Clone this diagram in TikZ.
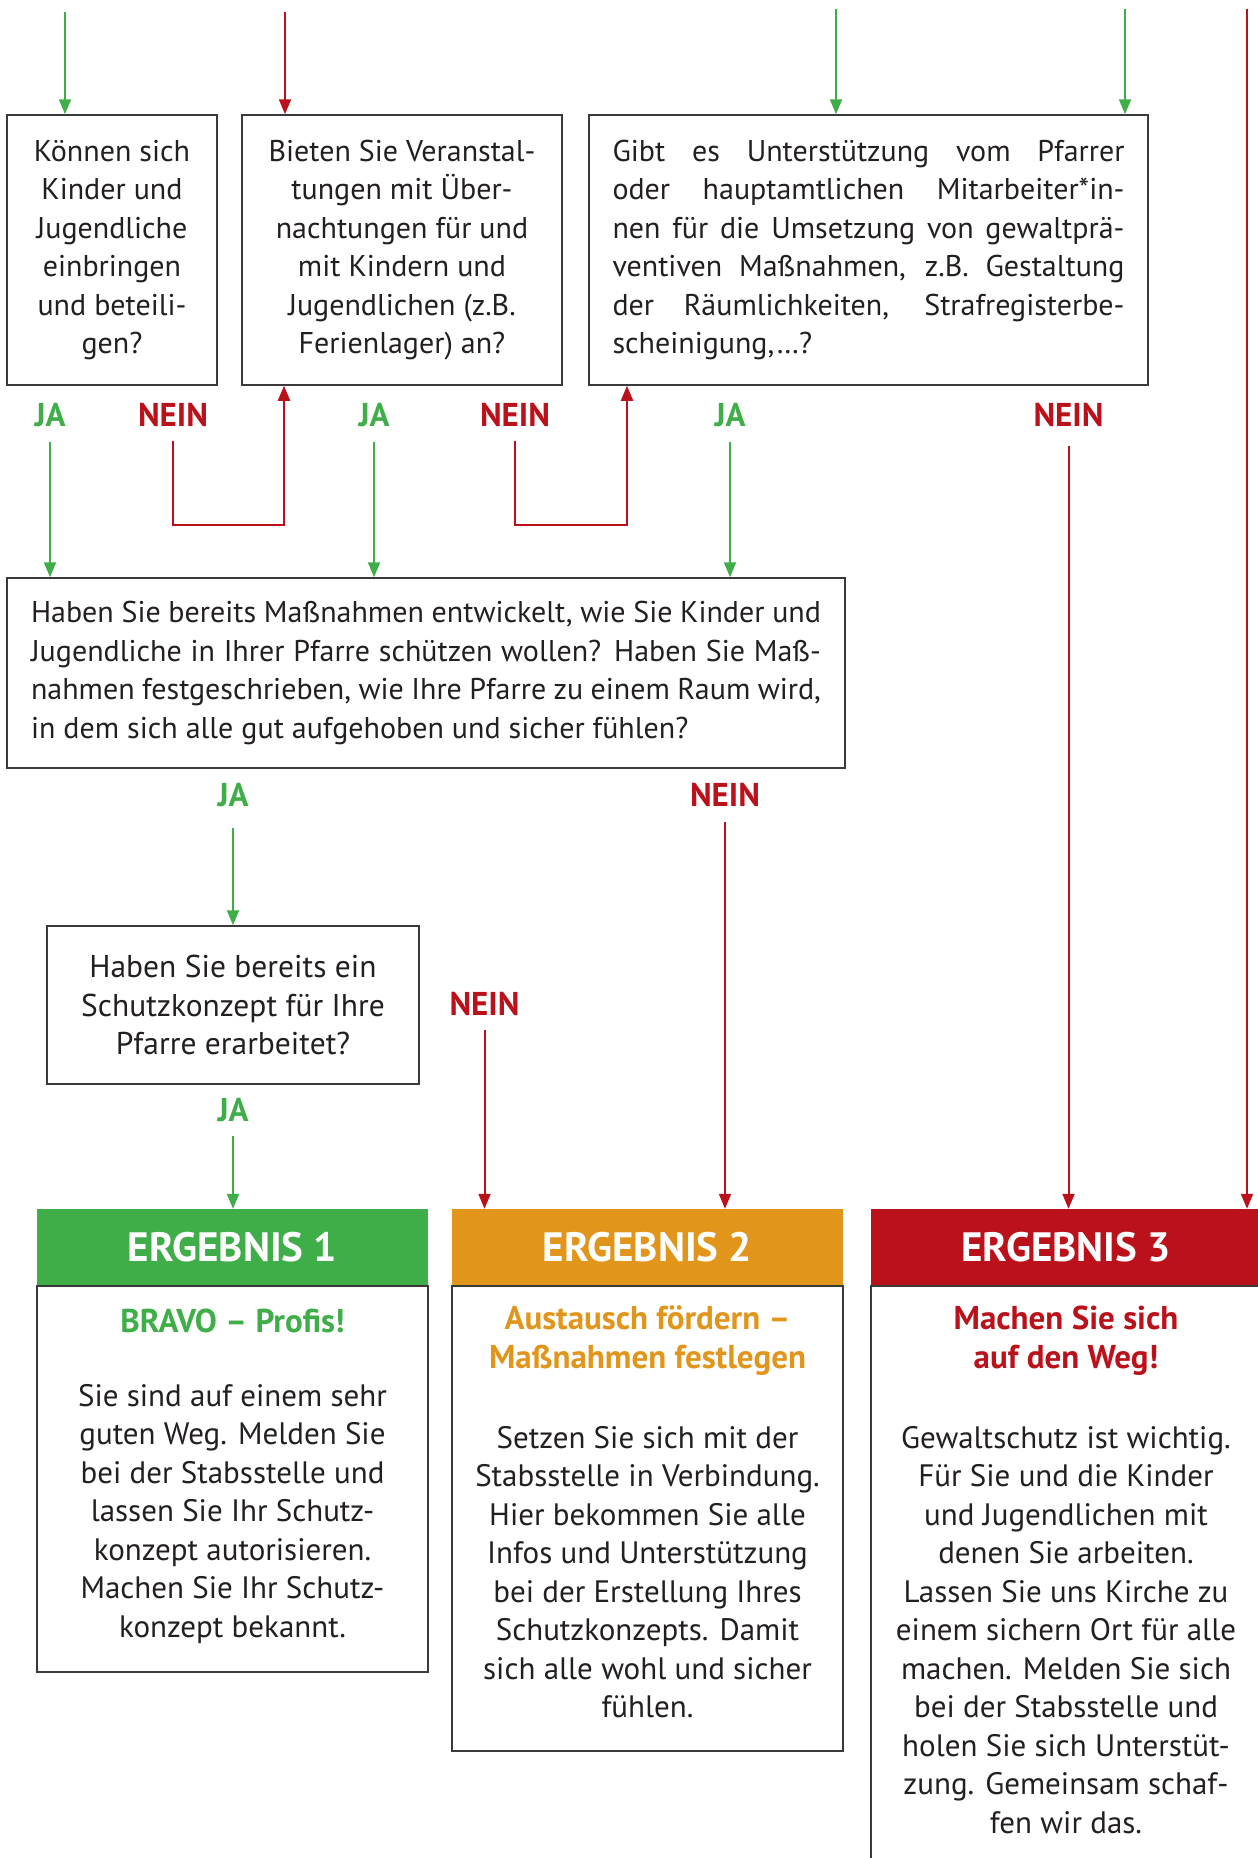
\documentclass[tikz,border=0pt]{standalone}
\usepackage{fontspec}
\setmainfont{PT Sans}
\usetikzlibrary{arrows.meta}
\definecolor{gcol}{HTML}{3FAE49}
\definecolor{ocol}{HTML}{E1961B}
\definecolor{rcol}{HTML}{BA111A}
\definecolor{tcol}{HTML}{231F20}
\definecolor{bcol}{HTML}{3A3A3A}
\tikzset{
  qbox/.style={draw=bcol, line width=1.5pt, inner sep=0pt, align=center, text=tcol,
    font=\fontsize{30}{38.5}\selectfont},
  btxt/.style={inner sep=0pt, align=center, text=tcol, font=\fontsize{31}{38.5}\selectfont},
  subt/.style={inner sep=0pt, align=center, font=\bfseries\fontsize{33}{39}\selectfont},
  lbl/.style={inner sep=0pt, font=\bfseries\fontsize{33}{36}\selectfont},
  jalbl/.style={lbl, text=gcol},
  neinlbl/.style={lbl, text=rcol},
  garr/.style={draw=gcol, line width=2pt, -{Triangle[length=15pt,width=12pt]}},
  rarr/.style={draw=rcol, line width=2pt, -{Triangle[length=15pt,width=12pt]}},
  head/.style={inner sep=0pt, text=white, font=\bfseries\fontsize{41}{44}\selectfont, minimum height=76pt},
  ebody/.style={draw=bcol, line width=1.5pt, inner sep=0pt},
}
\begin{document}
\begin{tikzpicture}[x=1pt,y=-1pt]
\useasboundingbox (0,0) rectangle (1258,1858);
\clip (0,0) rectangle (1258,1858);

% question boxes
\node[qbox, minimum width=210pt, minimum height=270pt] (A) at (112,250)
  {Können sich\\Kinder und\\Jugendliche\\einbringen\\und beteili-\\gen?};
\node[qbox, minimum width=320pt, minimum height=270pt] (B) at (402,250)
  {Bieten Sie Veranstal-\\tungen mit Über-\\nachtungen für und\\mit Kindern und\\Jugendlichen (z.B.\\Ferienlager) an?};
\node[qbox, minimum width=559pt, minimum height=270pt, align=left] (C) at (868.5,250)
  {\makebox[512pt][s]{Gibt es Unterstützung vom Pfarrer}\\
   \makebox[512pt][s]{oder hauptamtlichen Mitarbeiter*in-}\\
   \makebox[512pt][s]{nen für die Umsetzung von gewaltprä-}\\
   \makebox[512pt][s]{ventiven Maßnahmen, z.B. Gestaltung}\\
   \makebox[512pt][s]{der Räumlichkeiten, Strafregisterbe-}\\
   \makebox[512pt][l]{scheinigung,…?}};
\node[qbox, minimum width=838pt, minimum height=190pt, align=left] (D) at (426,673)
  {\makebox[790pt][s]{Haben Sie bereits Maßnahmen entwickelt, wie Sie Kinder und}\\
   \makebox[790pt][s]{Jugendliche in Ihrer Pfarre schützen wollen? Haben Sie Maß-}\\
   \makebox[790pt][s]{nahmen festgeschrieben, wie Ihre Pfarre zu einem Raum wird,}\\
   \makebox[790pt][l]{in dem sich alle gut aufgehoben und sicher fühlen?}};
\node[qbox, minimum width=372pt, minimum height=158pt, font=\fontsize{31.5}{38.5}\selectfont] (E) at (233,1005)
  {Haben Sie bereits ein\\Schutzkonzept für Ihre\\Pfarre erarbeitet?};

% result boxes
\node[head, fill=gcol, minimum width=391pt] (R1) at (232.5,1247) {ERGEBNIS 1};
\node[ebody, anchor=north, minimum width=391pt, minimum height=386pt] (R1b) at (R1.south) {};
\node[head, fill=ocol, minimum width=391pt] (R2) at (647.5,1247) {ERGEBNIS 2};
\node[ebody, anchor=north, minimum width=391pt, minimum height=465pt] (R2b) at (R2.south) {};
\node[head, fill=rcol, minimum width=390pt] (R3) at (1066,1247) {ERGEBNIS 3};
\node[ebody, anchor=north, minimum width=390pt, minimum height=700pt] (R3b) at (R3.south) {};

\node[subt, text=gcol] (R1s) at (232.5,1321) {BRAVO – Profis!};
\node[btxt] (R1t) at (232.5,1514)
  {Sie sind auf einem sehr\\guten Weg. Melden Sie\\bei der Stabsstelle und\\lassen Sie Ihr Schutz-\\konzept autorisieren.\\Machen Sie Ihr Schutz-\\konzept bekannt.};
\node[subt, text=ocol] (R2s) at (647.5,1341) {Austausch fördern –\\Maßnahmen festlegen};
\node[btxt] (R2t) at (647.5,1572)
  {Setzen Sie sich mit der\\Stabsstelle in Verbindung.\\Hier bekommen Sie alle\\Infos und Unterstützung\\bei der Erstellung Ihres\\Schutzkonzepts. Damit\\sich alle wohl und sicher\\fühlen.};
\node[subt, text=rcol] (R3s) at (1066,1341) {Machen Sie sich\\auf den Weg!};
\node[btxt] (R3t) at (1066,1630)
  {Gewaltschutz ist wichtig.\\Für Sie und die Kinder\\und Jugendlichen mit\\denen Sie arbeiten.\\Lassen Sie uns Kirche zu\\einem sichern Ort für alle\\machen. Melden Sie sich\\bei der Stabsstelle und\\holen Sie sich Unterstüt-\\zung. Gemeinsam schaf-\\fen wir das.};

% labels
\node[jalbl] (ja1) at (50,415) {JA};
\node[neinlbl] (nein1) at (173,415) {NEIN};
\node[jalbl] (ja2) at (374,415) {JA};
\node[neinlbl] (nein2) at (515,415) {NEIN};
\node[jalbl] (ja3) at (730,415) {JA};
\node[neinlbl] (nein3) at (1068.5,415) {NEIN};
\node[jalbl] (ja4) at (233,795) {JA};
\node[neinlbl] (nein4) at (725,795) {NEIN};
\node[jalbl] (ja5) at (233,1110) {JA};
\node[neinlbl] (nein5) at (484.5,1004) {NEIN};

% incoming arrows from top
\coordinate (t1) at (65,12);
\coordinate (t2) at (285,12);
\coordinate (t3) at (836,9);
\coordinate (t4) at (1125,9);
\coordinate (t5) at (1247,9);
\draw[garr] (t1) -- (t1 |- A.north);
\draw[rarr] (t2) -- (t2 |- B.north);
\draw[garr] (t3) -- (t3 |- C.north);
\draw[garr] (t4) -- (t4 |- C.north);
\draw[rarr] (t5) -- (t5 |- R3.north);

% row 1 connectors
\coordinate (l1) at (284,525);
\coordinate (l2) at (627,525);
\draw[garr, shorten <=15pt] (ja1.south) -- (ja1.south |- D.north);
\draw[rarr, shorten <=14pt] (nein1.south) |- (l1) -- (l1 |- B.south);
\draw[garr, shorten <=15pt] (ja2.south) -- (ja2.south |- D.north);
\draw[rarr, shorten <=14pt] (nein2.south) |- (l2) -- (l2 |- C.south);
\draw[garr, shorten <=15pt] (ja3.south) -- (ja3.south |- D.north);
\draw[rarr, shorten <=19pt] (nein3.south) -- (nein3.south |- R3.north);

% lower connectors
\draw[garr, shorten <=21pt] (ja4.south) -- (ja4.south |- E.north);
\draw[rarr, shorten <=15pt] (nein4.south) -- (nein4.south |- R2.north);
\draw[garr, shorten <=14pt] (ja5.south) -- (ja5.south |- R1.north);
\draw[rarr, shorten <=14pt] (nein5.south) -- (nein5.south |- R2.north);
\end{tikzpicture}
\end{document}
